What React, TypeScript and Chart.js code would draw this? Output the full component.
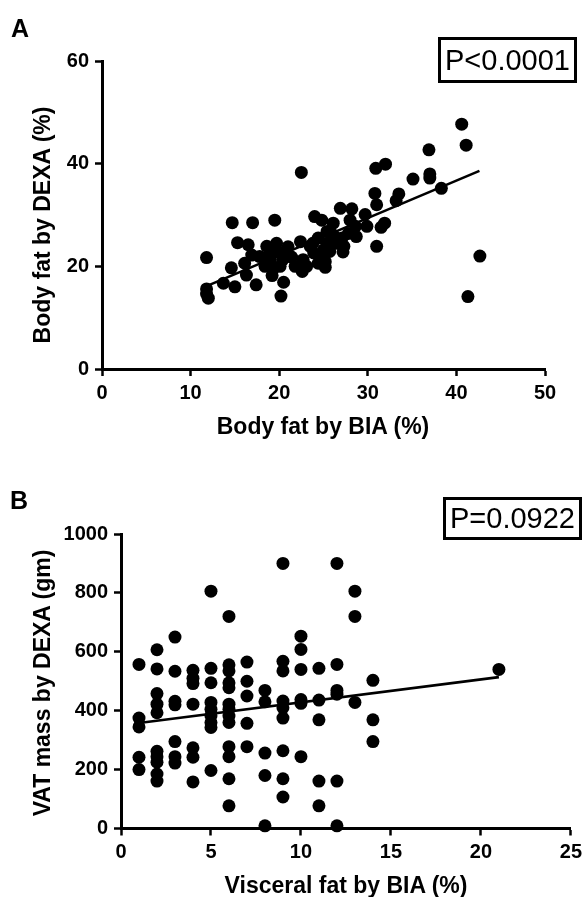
import React, { useEffect, useRef } from "react";
import { Chart, registerables } from "chart.js";

Chart.register(...registerables);

const FONT = "'Liberation Sans', Arial, Helvetica, sans-serif";

// ---------- Panel A: body fat (%) BIA vs DEXA ----------
const bodyFatBIA = [
  11.8, 11.8, 11.8, 12.0, 14.7, 17.0, 19.5, 22.5, 15.3, 16.5,
  14.6, 13.7, 15.0, 16.3, 16.1, 17.4, 16.9, 17.8, 18.6, 19.7,
  19.0, 19.4, 19.2, 20.5, 20.2, 21.0, 20.4, 20.1, 21.8, 21.4,
  22.4, 22.6, 23.1, 24.0, 24.8, 24.4, 23.5, 24.4, 25.2, 25.0,
  25.7, 26.1, 25.4, 26.9, 28.2, 27.1, 27.2, 26.5, 28.0, 28.7,
  29.7, 29.9, 31.0, 30.8, 31.0, 30.9, 32.0, 31.5, 31.9, 33.5,
  33.2, 35.1, 36.9, 37.0, 37.0, 38.3, 40.6, 41.1, 41.3, 42.65,
  19.0, 21.0, 23.9, 25.4, 26.1, 27.8, 24.8, 22.7, 27.3, 18.4,
  20.1, 23.8, 25.2, 28.6,
];
const bodyFatDEXA = [
  21.7, 15.6, 14.6, 13.8, 28.5, 28.5, 29.0, 38.3, 24.6, 24.2,
  19.7, 16.7, 16.0, 18.3, 20.6, 16.4, 22.2, 21.9, 23.9, 24.5,
  21.3, 19.7, 18.2, 16.9, 14.2, 23.8, 21.3, 20.0, 20.0, 21.8,
  24.8, 19.0, 20.0, 29.7, 29.0, 25.5, 23.9, 20.6, 20.9, 23.2,
  22.9, 28.4, 26.8, 31.3, 31.2, 25.5, 22.8, 24.5, 29.0, 25.8,
  30.1, 27.8, 23.9, 34.2, 32.0, 39.1, 39.9, 27.6, 28.4, 34.1,
  32.8, 37.0, 42.7, 38.0, 37.2, 35.2, 47.7, 43.6, 14.1, 22.0,
  22.8, 22.0, 22.6, 24.5, 26.1, 26.4, 21.6, 21.3, 23.9, 20.0,
  22.6, 24.5, 19.8, 27.8,
];
const fitBIA_A = [12.0, 42.6];
const fitDEXA_A = [16.3, 38.6];
const xTicksA = [0, 10, 20, 30, 40, 50];
const yTicksA = [0, 20, 40, 60];

// ---------- Panel B: visceral fat (%) BIA vs VAT mass (gm) DEXA ----------
const visceralBIA = [
  1, 1, 1, 1, 1,
  2, 2, 2, 2, 2, 2, 2, 2, 2, 2,
  3, 3, 3, 3, 3, 3, 3,
  4, 4, 4, 4, 4, 4, 4,
  5, 5, 5, 5, 5, 5, 5, 5, 5,
  6, 6, 6, 6, 6, 6, 6, 6, 6, 6, 6, 6, 6,
  7, 7, 7, 7, 7,
  8, 8, 8, 8, 8,
  9, 9, 9, 9, 9, 9, 9, 9, 9,
  10, 10, 10, 10, 10, 10,
  11, 11, 11, 11, 11,
  12, 12, 12, 12, 12, 12,
  13, 13, 13,
  14, 14, 14,
  21,
];
const vatMassDEXA = [
  557, 375, 345, 242, 200,
  607, 542, 458, 422, 393, 262, 244, 225, 185, 161,
  650, 534, 432, 420, 295, 244, 222,
  537, 510, 492, 422, 274, 242, 158,
  806, 544, 495, 428, 405, 383, 360, 343, 197,
  720, 556, 535, 495, 478, 422, 405, 382, 360, 278, 244, 169, 77,
  565, 500, 450, 357, 278,
  469, 430, 256, 180, 9,
  900, 568, 535, 433, 410, 375, 264, 169, 107,
  653, 608, 540, 438, 425, 244,
  544, 436, 369, 161, 77,
  900, 557, 469, 456, 161, 9,
  806, 720, 428,
  503, 369, 295,
  540,
];
const fitBIA_B = [1, 21];
const fitVAT_B = [358, 514];
const xTicksB = [0, 5, 10, 15, 20, 25];
const yTicksB = [0, 200, 400, 600, 800, 1000];

type PanelProps = {
  xs: number[];
  ys: number[];
  fitX: number[];
  fitY: number[];
  xTicks: number[];
  yTicks: number[];
  width: number;
  height: number;
  yAxisWidth: number;
  xAxisHeight: number;
  padTop: number;
  padRight: number;
};

function ScatterPanel(p: PanelProps) {
  const ref = useRef<HTMLCanvasElement | null>(null);
  useEffect(() => {
    if (!ref.current) return;
    const tickFont = { family: FONT, size: 20, weight: "bold" as const };
    const chart = new Chart(ref.current, {
      type: "scatter",
      data: {
        datasets: [
          {
            type: "scatter",
            data: p.xs.map((x, i) => ({ x, y: p.ys[i] })),
            backgroundColor: "#000",
            borderWidth: 0,
            pointRadius: 6.5,
            pointHoverRadius: 6.5,
            clip: false as any,
          },
          {
            type: "line",
            data: p.fitX.map((x, i) => ({ x, y: p.fitY[i] })),
            borderColor: "#000",
            borderWidth: 2.6,
            pointRadius: 0,
            fill: false,
            tension: 0,
          },
        ],
      },
      options: {
        animation: false,
        responsive: false,
        events: [],
        layout: { padding: { top: p.padTop, right: p.padRight, left: 0, bottom: 0 } },
        plugins: { legend: { display: false }, tooltip: { enabled: false }, title: { display: false } },
        scales: {
          x: {
            type: "linear",
            min: p.xTicks[0],
            max: p.xTicks[p.xTicks.length - 1],
            afterBuildTicks: (s: any) => {
              s.ticks = p.xTicks.map((v) => ({ value: v }));
            },
            afterFit: (s: any) => {
              s.height = p.xAxisHeight;
            },
            grid: { drawOnChartArea: false, drawTicks: true, tickLength: 7, tickWidth: 2.5, tickColor: "#000" },
            border: { display: true, color: "#000", width: 3 },
            ticks: {
              color: "#000",
              font: tickFont,
              padding: 5,
              maxRotation: 0,
              autoSkip: false,
              callback: (v: any) => String(v),
            },
          },
          y: {
            type: "linear",
            min: p.yTicks[0],
            max: p.yTicks[p.yTicks.length - 1],
            afterBuildTicks: (s: any) => {
              s.ticks = p.yTicks.map((v) => ({ value: v }));
            },
            afterFit: (s: any) => {
              s.width = p.yAxisWidth;
            },
            grid: { drawOnChartArea: false, drawTicks: true, tickLength: 7, tickWidth: 2.5, tickColor: "#000" },
            border: { display: true, color: "#000", width: 3 },
            ticks: {
              color: "#000",
              font: tickFont,
              padding: 6,
              autoSkip: false,
              callback: (v: any) => String(v),
            },
          },
        },
      },
    });
    return () => chart.destroy();
  }, []);
  return (
    <canvas
      ref={ref}
      width={p.width}
      height={p.height}
      style={{ width: p.width, height: p.height, display: "block" }}
    />
  );
}

const abs = (left: number, top: number): React.CSSProperties => ({ position: "absolute", left, top });

function AxisTitle({ cx, cy, text, vertical }: { cx: number; cy: number; text: string; vertical?: boolean }) {
  return (
    <div
      style={{
        position: "absolute",
        left: cx,
        top: cy,
        transform: `translate(-50%, -50%)${vertical ? " rotate(-90deg)" : ""}`,
        whiteSpace: "nowrap",
        fontFamily: FONT,
        fontWeight: "bold",
        fontSize: 23,
        lineHeight: "23px",
        color: "#000",
      }}
    >
      {text}
    </div>
  );
}

function PBox({ left, top, width, height, text }: { left: number; top: number; width: number; height: number; text: string }) {
  return (
    <div
      style={{
        ...abs(left, top),
        width,
        height,
        boxSizing: "border-box",
        border: "3px solid #000",
        display: "flex",
        alignItems: "center",
        justifyContent: "center",
        fontFamily: FONT,
        fontSize: 29,
        color: "#000",
        whiteSpace: "nowrap",
      }}
    >
      {text}
    </div>
  );
}

export default function App() {
  return (
    <div style={{ position: "absolute", left: 0, top: 0, width: 587, height: 897, background: "#fff", overflow: "hidden" }}>
      <div style={abs(0, 0)}>
        <ScatterPanel
          xs={bodyFatBIA}
          ys={bodyFatDEXA}
          fitX={fitBIA_A}
          fitY={fitDEXA_A}
          xTicks={xTicksA}
          yTicks={yTicksA}
          width={587}
          height={440}
          yAxisWidth={102}
          xAxisHeight={71}
          padTop={61}
          padRight={42}
        />
      </div>
      <div style={abs(0, 460)}>
        <ScatterPanel
          xs={visceralBIA}
          ys={vatMassDEXA}
          fitX={fitBIA_B}
          fitY={fitVAT_B}
          xTicks={xTicksB}
          yTicks={yTicksB}
          width={587}
          height={437}
          yAxisWidth={121}
          xAxisHeight={68.5}
          padTop={74}
          padRight={15}
        />
      </div>
      <div style={{ ...abs(11, 16), fontFamily: FONT, fontWeight: "bold", fontSize: 25, lineHeight: "25px" }}>A</div>
      <div style={{ ...abs(10, 488), fontFamily: FONT, fontWeight: "bold", fontSize: 25, lineHeight: "25px" }}>B</div>
      <PBox left={438} top={37} width={139} height={46} text="P<0.0001" />
      <PBox left={443} top={497} width={139} height={43} text="P=0.0922" />
      <AxisTitle cx={323} cy={426} text="Body fat by BIA (%)" />
      <AxisTitle cx={42} cy={225} text="Body fat by DEXA (%)" vertical />
      <AxisTitle cx={346} cy={885} text="Visceral fat by BIA (%)" />
      <AxisTitle cx={42} cy={683} text="VAT mass by DEXA (gm)" vertical />
    </div>
  );
}
